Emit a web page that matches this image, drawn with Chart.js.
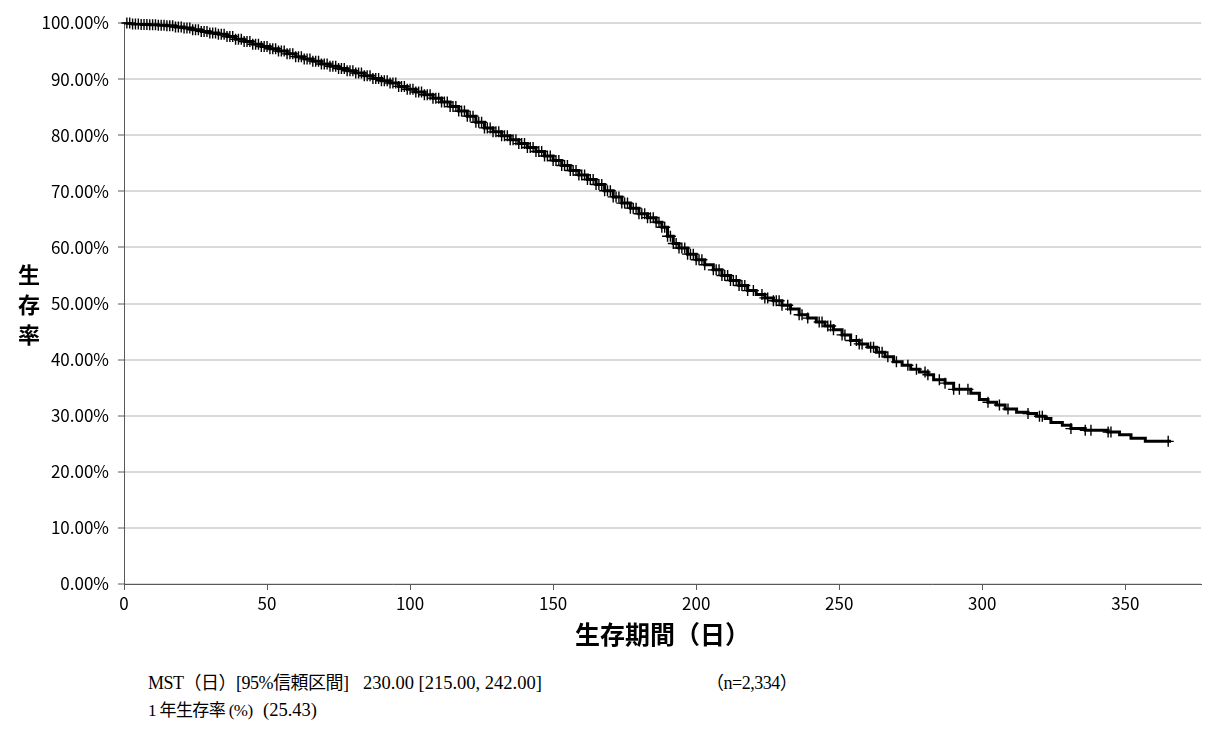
<!DOCTYPE html>
<html lang="ja">
<head>
<meta charset="utf-8">
<title>生存率</title>
<script src="https://cdn.jsdelivr.net/npm/chart.js@4.4.0/dist/chart.umd.min.js"></script>
<style>
  html, body { margin: 0; padding: 0; background: #fff; overflow: hidden; }
  #wrap { position: relative; width: 1208px; height: 729px; }
  #chart { position: absolute; left: 0; top: 0; }
  .ytitle { position: absolute; left: 13px; top: 264px; font: bold 22px "Noto Sans CJK JP", sans-serif; writing-mode: vertical-rl; letter-spacing: 8px; color: #000; }
  .note { position: absolute; font-size: 18px; letter-spacing: -0.5px; font-family: "Liberation Serif", "Noto Sans CJK JP", serif; color: #000; white-space: pre; line-height: 22px; }
  .num { font-size: 18.5px; letter-spacing: 0; }
  .small { font-size: 17px; letter-spacing: -0.6px; }
</style>
</head>
<body>
<div id="wrap">
  <canvas id="chart" width="1208" height="650"></canvas>
  <div class="ytitle" id="ytitle"></div>
  <div class="note" id="n1" style="left:148px; top:672px"></div>
  <div class="note num" id="n2" style="left:363px; top:672px"></div>
  <div class="note" id="n3" style="left:706px; top:672px"></div>
  <div class="note small" id="n4" style="left:148px; top:700px"></div>
  <div class="note num" id="n5" style="left:263px; top:699px"></div>
</div>
<script>
// Curva de sobrevida (dias, %)
const survDays = [0,3,6,9,12,15,18,21,24,27,30,33,36,39,42,45,48,51,54,57,
  60,63,66,69,72,75,78,81,84,87,90,93,96,99,102,105,108,111,114,117,
  120,123,126,129,132,135,138,141,144,147,150,153,156,159,162,165,168,171,174,177,
  180,183,186,188,190,192,194,197,200,203,206,209,212,215,218,221,224,227,230,233,
  236,239,242,245,248,251,254,257,260,263,266,269,272,275,278,281,283,287,290,296,
  299,302,305,308,312,316,319,322,324,328,331,336,344,348,352,357,366];
const survPct = [100,99.8,99.75,99.7,99.6,99.5,99.3,99.1,98.8,98.5,98.2,98.0,97.6,97.1,96.7,96.2,95.8,95.4,95.0,94.5,
  94.0,93.6,93.2,92.7,92.3,91.9,91.5,91.1,90.6,90.1,89.7,89.3,88.7,88.2,87.7,87.2,86.6,85.9,85.1,84.3,
  83.4,82.3,81.3,80.6,79.9,79.2,78.5,77.8,77.1,76.3,75.5,74.6,73.7,72.9,72.1,71.2,70.1,69.0,67.9,67.0,
  66.0,65.3,64.5,63.6,62.0,60.7,59.9,58.8,57.8,56.9,56.0,55.0,54.1,53.2,52.3,51.6,51.0,50.5,49.7,49.0,
  48.0,47.4,46.7,46.0,45.3,44.4,43.4,42.8,42.2,41.3,40.5,39.6,39.0,38.3,37.8,37.3,36.4,35.8,34.7,34.0,
  32.9,32.4,31.9,31.2,30.6,30.4,29.9,29.5,28.8,28.3,27.7,27.4,27.1,26.6,26.0,25.43,25.43];

// Censuras (dias)
const censorDays = [1,2,3,4,5,6,7,8,9,10,11,12,13,14,15,16,17,18,19,20,
  21,22,23,24,25,26,27,28,29,30,31,32,33,34,35,36,37,38,39,40,
  41,42,43,44,45,46,47,48,49,50,51,52,53,54,55,56,57,58,59,60,
  61,62,63,64,65,66,67,68,69,70,71,72,73,74,75,76,77,78,79,80,
  81,82,83,84,85,86,87,88,89,90,91,92,93,94,95,96,97,98,99,100,
  101,102,103,104,105,106,107,108,109,110,111,112,113,114,115,116,117,118,119,120,
  121,122,123,124,125,126,127,128,129,130,131,132,133,134,135,136,137,138,139,140,
  141,142,143,144,145,146,147,148,149,150,151,152,153,154,155,156,157,158,159,160,
  161,162,163,164,165,166,167,168,169,170,171,172,173,174,175,176,177,178,179,180,
  181,182,183,184,185,186,187,188,189,190,191,192,193,194,195,196,197,198,199,
  200,201,202,203,206,207,208,209,210,211,212,213,214,215,216,217,218,220,223,224,
  225,227,228,229,230,232,233,236,237,239,243,244,246,247,248,251,252,254,256,257,
  258,261,262,264,265,267,270,274,277,280,281,285,287,290,292,295,302,306,309,316,
  320,321,331,336,338,344,345,365];

// Eixos e textos
const xTicks = [0, 50, 100, 150, 200, 250, 300, 350];
const yTicks = [0, 10, 20, 30, 40, 50, 60, 70, 80, 90, 100];
const yTickLabels = ['0.00%', '10.00%', '20.00%', '30.00%', '40.00%', '50.00%', '60.00%', '70.00%', '80.00%', '90.00%', '100.00%'];
const xTitle = '生存期間（日）';
const yTitle = '生存率';
const notes = {
  n1: 'MST（日）[95%信頼区間]',
  n2: '230.00 [215.00, 242.00]',
  n3: '（n=2,334）',
  n4: '1 年生存率 (%)',
  n5: '(25.43)'
};

// Valor da curva num dia (degrau)
function survivalAt(day) {
  let v = survPct[0];
  for (let i = 0; i < survDays.length; i++) {
    if (survDays[i] <= day) v = survPct[i];
  }
  return v;
}

const tickFont = { family: '"Noto Sans CJK JP", sans-serif', size: 17 };

document.getElementById('ytitle').textContent = yTitle;
Object.keys(notes).forEach(id => {
  document.getElementById(id).textContent = notes[id];
});

new Chart(document.getElementById('chart'), {
  type: 'line',
  data: {
    datasets: [
      {
        data: survDays.map((d, i) => ({ x: d, y: survPct[i] })),
        stepped: true,
        borderColor: '#000',
        borderWidth: 3,
        pointRadius: 0,
        fill: false
      },
      {
        data: censorDays.map(d => ({ x: d, y: survivalAt(d) })),
        showLine: false,
        pointStyle: 'cross',
        pointRadius: 5.5,
        borderColor: '#000',
        borderWidth: 1.4,
        clip: false
      }
    ]
  },
  options: {
    responsive: false,
    animation: false,
    devicePixelRatio: 1,
    layout: { padding: { top: 23, left: 0, right: 0, bottom: 0 } },
    plugins: { legend: { display: false }, tooltip: { enabled: false } },
    scales: {
      x: {
        type: 'linear',
        min: 0,
        max: 376.5,
        afterBuildTicks: s => { s.ticks = xTicks.map(v => ({ value: v })); },
        afterFit: s => { s.height = 66; },
        grid: { drawOnChartArea: false, tickLength: 6, tickColor: '#595959', tickWidth: 1 },
        border: { color: '#595959', width: 1 },
        ticks: { font: tickFont, color: '#000', padding: 3, maxRotation: 0, autoSkip: false },
        title: {
          display: true,
          text: xTitle,
          color: '#000',
          font: { family: '"Noto Sans CJK JP", sans-serif', size: 25, weight: 'bold' },
          padding: { top: 0, bottom: 1 }
        }
      },
      y: {
        min: 0,
        max: 100,
        afterBuildTicks: s => { s.ticks = yTicks.map(v => ({ value: v })); },
        afterFit: s => { s.width = 124; },
        grid: { color: '#d9d9d9', lineWidth: 2, tickLength: 6, tickColor: '#595959', tickWidth: 1 },
        border: { color: '#595959', width: 1 },
        ticks: {
          font: tickFont,
          color: '#000',
          padding: 9,
          callback: v => yTickLabels[yTicks.indexOf(v)]
        }
      }
    }
  }
});
</script>
</body>
</html>
